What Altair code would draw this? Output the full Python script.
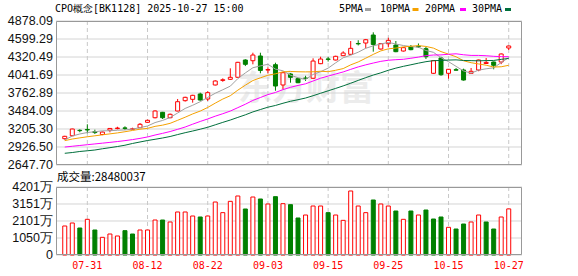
import altair as alt
import pandas as pd

# ---------------- data ----------------
dates = ["07-28", "07-29", "07-30", "07-31", "08-01", "08-04", "08-05", "08-06", "08-07", "08-08",
         "08-11", "08-12", "08-13", "08-14", "08-15", "08-18", "08-19", "08-20", "08-21", "08-22",
         "08-25", "08-26", "08-27", "08-28", "08-29", "09-01", "09-02", "09-03", "09-04", "09-05",
         "09-08", "09-09", "09-10", "09-11", "09-12", "09-15", "09-16", "09-17", "09-18", "09-19",
         "09-22", "09-23", "09-24", "09-25", "09-26", "09-29", "09-30", "10-09", "10-10", "10-13",
         "10-14", "10-15", "10-16", "10-17", "10-20", "10-21", "10-22", "10-23", "10-24", "10-27"]

open_ = [3055, 3101, 3185, 3198, 3165, 3120, 3188, 3212, 3222, 3200,
         3225, 3309, 3380, 3464, 3380, 3484, 3644, 3665, 3747, 3670,
         3887, 3958, 3975, 4006, 4274, 4263, 4336, 4118, 4201, 3887,
         4057, 3985, 3995, 3991, 4217, 4290, 4274, 4341, 4362, 4530,
         4537, 4661, 4444, 4526, 4506, 4413, 4475, 4486, 4449, 4068,
         4305, 4068, 4124, 4119, 4068, 4119, 4220, 4243, 4243, 4460]
high = [3100, 3210, 3200, 3278, 3195, 3165, 3220, 3240, 3247, 3225,
        3298, 3350, 3495, 3470, 3445, 3670, 3705, 3735, 3768, 3789,
        3960, 3990, 4145, 4245, 4285, 4387, 4387, 4161, 4232, 4090,
        4070, 3990, 4030, 4300, 4325, 4320, 4340, 4410, 4568, 4580,
        4600, 4703, 4535, 4619, 4568, 4470, 4506, 4530, 4475, 4270,
        4325, 4135, 4150, 4140, 4150, 4280, 4305, 4250, 4375, 4495]
low = [3040, 3095, 3155, 3139, 3128, 3110, 3154, 3200, 3190, 3190,
       3220, 3300, 3370, 3360, 3372, 3480, 3630, 3613, 3645, 3640,
       3880, 3937, 3965, 4000, 4180, 4207, 4068, 4068, 3798, 3820,
       3922, 3915, 3950, 3980, 4210, 4250, 4268, 4335, 4355, 4500,
       4455, 4403, 4435, 4470, 4395, 4405, 4425, 4462, 4290, 4060,
       4030, 3985, 4110, 3955, 4060, 4100, 4215, 4130, 4210, 4429]
close = [3092, 3205, 3180, 3190, 3150, 3158, 3214, 3220, 3215, 3208,
         3278, 3340, 3484, 3380, 3433, 3628, 3696, 3727, 3654, 3768,
         3949, 3968, 4006, 4238, 4207, 4351, 4112, 4126, 3871, 4077,
         4006, 3922, 3988, 4258, 4289, 4284, 4331, 4382, 4455, 4524,
         4588, 4515, 4528, 4578, 4403, 4465, 4434, 4478, 4325, 4263,
         4046, 4130, 4116, 3964, 4099, 4274, 4237, 4192, 4367, 4491]
# volume in 万
volume = [1792, 1977, 1668, 2204, 1545, 1092, 1297, 1174, 1503, 1297,
          1545, 1545, 2162, 2162, 2039, 2657, 2657, 2409, 2348, 2409,
          3274, 2616, 3315, 3645, 2842, 3583, 3460, 3151, 3604, 3171,
          3110, 2286, 2471, 3027, 3027, 2616, 2471, 2141, 3954, 3027,
          2616, 3398, 3151, 3027, 2718, 2204, 2718, 2471, 2780, 2224,
          2348, 1710, 1606, 1915, 2039, 2471, 2039, 1606, 2348, 2848]

ma5 = [3035, 3097, 3128, 3151, 3163, 3177, 3178, 3186, 3191, 3203,
       3227, 3252, 3305, 3338, 3383, 3453, 3524, 3573, 3628, 3695,
       3759, 3813, 3869, 3986, 4074, 4154, 4183, 4207, 4133, 4107,
       4038, 4000, 3973, 4050, 4093, 4148, 4230, 4309, 4348, 4395,
       4456, 4493, 4522, 4547, 4522, 4498, 4482, 4472, 4421, 4393,
       4309, 4248, 4176, 4104, 4071, 4117, 4138, 4153, 4234, 4312]
ma10 = [3025, 3050, 3068, 3085, 3100, 3115, 3130, 3145, 3163, 3183,
        3202, 3215, 3246, 3265, 3293, 3340, 3388, 3439, 3483, 3539,
        3606, 3669, 3721, 3807, 3884, 3956, 3998, 4038, 4060, 4091,
        4096, 4092, 4090, 4092, 4100, 4093, 4115, 4141, 4199, 4244,
        4302, 4361, 4415, 4447, 4459, 4477, 4487, 4497, 4484, 4458,
        4404, 4365, 4324, 4262, 4232, 4213, 4193, 4165, 4169, 4192]
ma20 = [2926, 2938, 2950, 2962, 2974, 2986, 2998, 3011, 3025, 3041,
        3060, 3082, 3112, 3138, 3166, 3200, 3236, 3280, 3322, 3361,
        3404, 3442, 3483, 3536, 3589, 3648, 3693, 3738, 3771, 3815,
        3851, 3880, 3905, 3949, 3992, 4025, 4057, 4089, 4129, 4167,
        4199, 4227, 4253, 4270, 4279, 4285, 4301, 4319, 4342, 4351,
        4353, 4363, 4370, 4355, 4345, 4345, 4340, 4331, 4326, 4325]
ma30 = [2829, 2841, 2857, 2868, 2880, 2899, 2916, 2934, 2954, 2981,
        3004, 3027, 3046, 3066, 3089, 3119, 3148, 3174, 3202, 3232,
        3270, 3308, 3344, 3385, 3425, 3470, 3507, 3543, 3570, 3604,
        3635, 3659, 3685, 3721, 3759, 3797, 3834, 3873, 3914, 3958,
        4001, 4041, 4075, 4115, 4148, 4176, 4200, 4225, 4248, 4264,
        4267, 4273, 4276, 4267, 4264, 4261, 4265, 4267, 4284, 4298]

price_ticks = [2647.70, 2926.50, 3205.30, 3484.09, 3762.89, 4041.69, 4320.49, 4599.29, 4878.09]
vol_ticks = [0, 1050, 2101, 3151, 4201]
vol_tick_labels = ["0", "1050万", "2101万", "3151万", "4201万"]
date_ticks = ["07-31", "08-12", "08-22", "09-03", "09-15", "09-25", "10-15", "10-27"]
title_text = ["CPO概念[BK1128] 2025-10-27 15:00"]
vol_title = ["成交量:28480037"]
watermark = ["东方财富"]
ma_names = ["5PMA", "10PMA", "20PMA", "30PMA"]

# ---------------- styles ----------------
RED = "#ff0000"
GREEN = "#008000"
MA_COLORS = ["#a0a0a0", "#f5a100", "#ff00ff", "#006f3c"]
W, H = 466, 234
P_TOP, P_BOT = 0, 144
V_TOP, V_BOT = 166, 234
MONO = "DejaVu Sans Mono"
SANS = "Liberation Sans"

df = pd.DataFrame({"idx": range(len(dates)), "date": dates, "open": open_, "high": high,
                   "low": low, "close": close, "vol": volume})
up = df["close"] >= df["open"]
prev = df["close"].shift(1)
vol_up = (df["close"] >= prev).where(prev.notna(), up)
df["ccolor"] = [RED if u else GREEN for u in up]
df["cfill"] = ["white" if u else GREEN for u in up]
df["vcolor"] = [RED if u else GREEN for u in vol_up]
df["vfill"] = ["white" if u else GREEN for u in vol_up]

ma_df = pd.DataFrame({"idx": range(len(dates)), "ma5": ma5, "ma10": ma10, "ma20": ma20, "ma30": ma30})

pt_df = pd.DataFrame({"v": price_ticks, "label": [f"{v:.2f}" for v in price_ticks]})
vt_df = pd.DataFrame({"v": vol_ticks, "label": vol_tick_labels})
dt_df = pd.DataFrame({"date": date_ticks})
dt_df["idx"] = [dates.index(d) for d in date_ticks]
one = pd.DataFrame({"title": title_text, "vtitle": vol_title, "wm": watermark})

XS = alt.Scale(domain=[-0.5, 60.1], nice=False, zero=False)
PS = alt.Scale(domain=[2647.70, 4878.09], range=[P_BOT, P_TOP], nice=False, zero=False)
VS = alt.Scale(domain=[0, 4201], range=[V_BOT, V_TOP], nice=False, zero=False)


def X(field="idx"):
    return alt.X(f"{field}:Q", scale=XS, axis=None)


layers = []

# watermark
layers.append(alt.Chart(one).mark_text(font="Noto Sans CJK SC", fontSize=34, fontWeight="bold",
                                       color="#ececec", align="center", baseline="middle").encode(
    x=alt.value(250), y=alt.value(69), text="wm:N"))

# horizontal grids
layers.append(alt.Chart(pt_df).mark_rule(color="#d4d4d4", strokeWidth=1).encode(
    y=alt.Y("v:Q", scale=PS, axis=None), x=alt.value(0), x2=alt.value(W)))
layers.append(alt.Chart(vt_df).mark_rule(color="#d4d4d4", strokeWidth=1).encode(
    y=alt.Y("v:Q", scale=VS, axis=None), x=alt.value(0), x2=alt.value(W)))

# vertical dashed grids
for top, bot in [(P_TOP, P_BOT), (V_TOP, V_BOT)]:
    layers.append(alt.Chart(dt_df).mark_rule(color="#c8c8c8", strokeDash=[4, 3], strokeWidth=1).encode(
        x=X(), y=alt.value(top), y2=alt.value(bot)))

# volume bars
layers.append(alt.Chart(df).mark_bar(size=4, strokeWidth=1).encode(
    x=X(), y=alt.Y("vol:Q", scale=VS, axis=None), y2=alt.datum(0),
    fill=alt.Fill("vfill:N", scale=None), stroke=alt.Stroke("vcolor:N", scale=None)))

# candle wicks
layers.append(alt.Chart(df).mark_rule(strokeWidth=1).encode(
    x=X(), y=alt.Y("low:Q", scale=PS, axis=None), y2="high:Q",
    stroke=alt.Stroke("ccolor:N", scale=None)))
# candle bodies
layers.append(alt.Chart(df).mark_bar(size=4, strokeWidth=1).encode(
    x=X(), y=alt.Y("open:Q", scale=PS, axis=None), y2="close:Q",
    fill=alt.Fill("cfill:N", scale=None), stroke=alt.Stroke("ccolor:N", scale=None)))

# moving averages
for col, color in zip(["ma5", "ma10", "ma20", "ma30"], MA_COLORS):
    layers.append(alt.Chart(ma_df).mark_line(color=color, strokeWidth=1).encode(
        x=X(), y=alt.Y(f"{col}:Q", scale=PS, axis=None)))

# borders
box = pd.DataFrame({"k": [0]})
for top, bot in [(P_TOP, P_BOT), (V_TOP, V_BOT)]:
    layers.append(alt.Chart(box).mark_rect(fill="transparent", stroke="#999999", strokeWidth=1).encode(
        x=alt.value(0.5), x2=alt.value(W - 0.5), y=alt.value(top + 0.5), y2=alt.value(bot - 0.5)))

# y labels
layers.append(alt.Chart(pt_df).mark_text(align="right", baseline="middle", font=SANS, fontSize=12.5,
                                         color="#111111").encode(
    y=alt.Y("v:Q", scale=PS, axis=None), x=alt.value(-3), text="label:N"))
layers.append(alt.Chart(vt_df).mark_text(align="right", baseline="middle", font=SANS, fontSize=12.5,
                                         color="#111111").encode(
    y=alt.Y("v:Q", scale=VS, axis=None), x=alt.value(-3), text="label:N"))

# x labels
layers.append(alt.Chart(dt_df).mark_text(align="center", baseline="middle", font=MONO, fontSize=10,
                                         color=RED).encode(
    x=X(), y=alt.value(245), text="date:N"))

# titles
layers.append(alt.Chart(one).mark_text(align="left", baseline="middle", font=MONO, fontSize=10,
                                       color="#000000").encode(
    x=alt.value(-1), y=alt.value(-12), text="title:N"))
layers.append(alt.Chart(one).mark_text(align="left", baseline="middle", font="Noto Sans CJK SC",
                                       fontSize=11.5, color="#000000").encode(
    x=alt.value(1), y=alt.value(157), text="vtitle:N"))

# legend
leg_text_x = [283, 324, 369, 416]
leg_sw_x = [309, 356.5, 404, 449]
for name, color, tx, sx in zip(ma_names, MA_COLORS, leg_text_x, leg_sw_x):
    ldf = pd.DataFrame({"name": [name]})
    layers.append(alt.Chart(ldf).mark_text(align="left", baseline="middle", font=MONO, fontSize=10,
                                           color="#000000").encode(
        x=alt.value(tx), y=alt.value(-12.5), text="name:N"))
    layers.append(alt.Chart(ldf).mark_rect(color=color).encode(
        x=alt.value(sx), x2=alt.value(sx + 6), y=alt.value(-13), y2=alt.value(-10)))

chart = alt.layer(*layers).resolve_scale(y="independent").properties(
    width=W, height=H,
    autosize=alt.AutoSizeParams(type="none"),
    padding={"left": 56, "top": 21, "right": 56, "bottom": 21},
    background="white",
).configure_view(stroke=None)

chart.save("out.html", embed_options={"renderer": "svg", "actions": False})
